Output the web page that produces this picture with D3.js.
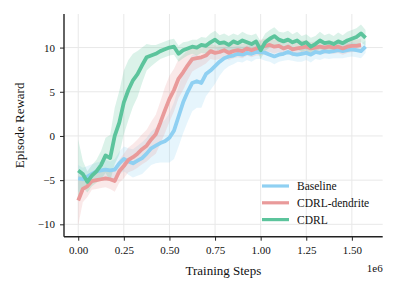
<!DOCTYPE html>
<meta charset="utf-8">
<head>
  <title>Episode Reward</title>
</head>
<style>
body { margin: 0; background: #fff; }
text { font-family: "Liberation Serif", "DejaVu Serif", serif; fill: #111; }
.grid line { stroke: #e8e8e8; stroke-width: 1; }
</style>
<body>
<script src="https://d3js.org/d3.v7.min.js"></script>
<script>

// training steps (in units of 1e6)
var steps = [0.000, 0.025, 0.050, 0.075, 0.100, 0.125, 0.150, 0.175, 0.200, 0.225,
             0.250, 0.275, 0.300, 0.325, 0.350, 0.375, 0.400, 0.425, 0.450, 0.475,
             0.500, 0.525, 0.550, 0.575, 0.600, 0.625, 0.650, 0.675, 0.700, 0.725,
             0.750, 0.775, 0.800, 0.825, 0.850, 0.875, 0.900, 0.925, 0.950, 0.975,
             1.000, 1.025, 1.050, 1.075, 1.100, 1.125, 1.150, 1.175, 1.200, 1.225,
             1.250, 1.275, 1.300, 1.325, 1.350, 1.375, 1.400, 1.425, 1.450, 1.475,
             1.500, 1.525, 1.550, 1.575];

var seriesNames = ["Baseline", "CDRL-dendrite", "CDRL"];
var seriesColors = ["#8fd0f2", "#e99a9a", "#5cc49c"];

// mean episode reward
var baselineMean = [-4.8, -4.9, -4.6, -4.3, -4.0, -3.9, -3.8, -3.9, -3.8, -3.1,
                    -2.6, -2.9, -3.1, -2.8, -2.5, -2.0, -1.4, -1.1, -0.8, -0.6,
                    -0.2, 0.6, 2.2, 3.8, 5.0, 6.0, 6.2, 6.0, 7.0, 7.4,
                    7.9, 8.4, 8.8, 9.0, 9.1, 9.3, 9.2, 9.4, 9.3, 9.5,
                    9.5, 9.4, 9.2, 9.0, 9.2, 9.3, 9.5, 9.3, 9.2, 9.3,
                    9.4, 9.2, 9.5, 9.4, 9.6, 9.5, 9.6, 9.7, 9.6, 9.7,
                    9.8, 9.7, 9.6, 10.1];
var dendriteMean = [-7.3, -6.0, -5.7, -5.1, -5.0, -4.9, -4.8, -4.9, -5.1, -4.0,
                    -3.4, -2.7, -2.4, -2.0, -1.5, -1.1, -0.4, 0.2, 1.5, 2.9,
                    4.2, 5.2, 6.5, 7.2, 8.0, 8.7, 8.8, 8.9, 9.1, 9.6,
                    9.4, 9.5, 9.7, 9.4, 9.6, 9.7, 9.6, 9.9, 9.7, 9.9,
                    10.0, 10.2, 10.3, 10.1, 10.2, 9.9, 10.1, 9.8, 9.9, 10.0,
                    10.1, 9.9, 10.0, 10.1, 10.0, 10.1, 10.0, 10.1, 9.9, 10.1,
                    10.2, 10.2, 10.3];
var cdrlMean = [-3.9, -4.3, -5.2, -4.5, -4.0, -3.3, -2.2, -2.5, 0.0, 1.5,
                3.8, 5.2, 6.3, 7.0, 8.0, 8.9, 9.1, 9.3, 9.6, 9.8,
                10.0, 10.1, 9.3, 9.7, 9.9, 10.1, 10.0, 10.3, 10.2, 10.6,
                10.9, 10.5, 10.6, 10.3, 10.7, 10.5, 10.8, 10.6, 10.4, 10.7,
                9.7, 10.6, 11.0, 11.3, 10.9, 10.7, 10.9, 10.6, 10.8, 10.4,
                10.6, 10.1, 10.4, 10.8, 10.5, 10.6, 10.4, 10.7, 10.5, 10.8,
                11.0, 11.2, 11.6, 11.1];

// spread (std) around the mean
var baselineStd = [1.5, 1.3, 1.2, 1.1, 1.0, 1.0, 1.1, 1.0, 1.2, 1.3,
                   1.4, 1.5, 1.6, 1.7, 1.8, 1.8, 1.9, 2.0, 2.2, 2.4,
                   2.8, 3.2, 3.4, 3.5, 3.4, 3.2, 3.0, 2.8, 2.5, 2.2,
                   2.0, 1.6, 1.3, 1.1, 1.0, 0.9, 0.9, 0.8, 0.9, 0.8,
                   0.8, 0.9, 0.8, 0.9, 0.8, 0.8, 0.9, 0.8, 0.8, 0.9,
                   0.8, 0.9, 0.8, 0.8, 0.8, 0.8, 0.8, 0.9, 0.8, 0.8,
                   0.8, 0.8, 0.8, 0.7];
var dendriteStd = [2.8, 1.5, 1.2, 1.0, 1.0, 1.0, 1.0, 1.1, 1.2, 1.3,
                   1.4, 1.4, 1.5, 1.6, 1.7, 1.8, 2.0, 2.2, 2.4, 2.6,
                   2.6, 2.4, 2.2, 2.0, 1.7, 1.4, 1.2, 1.0, 0.9, 0.9,
                   0.8, 0.8, 0.8, 0.8, 0.8, 0.8, 0.8, 0.8, 0.8, 0.8,
                   0.9, 0.8, 0.8, 0.8, 0.7, 0.8, 0.7, 0.8, 0.7, 0.8,
                   0.7, 0.7, 0.7, 0.7, 0.7, 0.7, 0.7, 0.7, 0.7, 0.7,
                   0.7, 0.7, 0.7];
var cdrlStd = [3.5, 1.5, 1.2, 1.2, 1.3, 1.6, 2.0, 2.6, 3.2, 3.6,
               3.6, 3.4, 3.0, 2.6, 2.0, 1.5, 1.2, 1.0, 0.9, 0.9,
               0.9, 0.9, 0.9, 0.9, 0.8, 0.8, 0.9, 0.9, 0.9, 1.0,
               1.0, 0.9, 1.0, 1.0, 0.9, 0.9, 1.0, 0.9, 1.0, 0.9,
               1.0, 1.0, 1.0, 1.0, 0.9, 1.0, 1.0, 0.9, 1.0, 0.9,
               0.9, 1.0, 0.9, 1.0, 0.9, 1.0, 0.9, 1.0, 0.9, 1.0,
               1.0, 1.0, 1.0, 0.9];

var xTicks = [0, 0.25, 0.5, 0.75, 1.0, 1.25, 1.5];
var yTicks = [-10, -5, 0, 5, 10];

var width = 397,
    height = 293;
var plotLeft = 64, plotRight = 382.7, plotTop = 14, plotBottom = 236.7;

var svg = d3.select("body").append("svg")
    .attr("width", width)
    .attr("height", height);

var x = d3.scaleLinear().domain([-0.078, 1.669]).range([plotLeft, plotRight]);
var y = d3.scaleLinear().domain([-11.4, 13.8]).range([plotBottom, plotTop]);

// grid
var grid = svg.append("g").attr("class", "grid");
grid.selectAll(".gx").data(xTicks).enter().append("line")
    .attr("x1", function(d) { return x(d); })
    .attr("x2", function(d) { return x(d); })
    .attr("y1", plotTop).attr("y2", plotBottom);
grid.selectAll(".gy").data(yTicks).enter().append("line")
    .attr("x1", plotLeft).attr("x2", plotRight)
    .attr("y1", function(d) { return y(d); })
    .attr("y2", function(d) { return y(d); });

// build series rows
var series = [baselineMean, dendriteMean, cdrlMean].map(function(m, k) {
  var s = [baselineStd, dendriteStd, cdrlStd][k];
  return {
    name: seriesNames[k],
    color: seriesColors[k],
    rows: m.map(function(v, i) { return {x: steps[i], m: v, sd: s[i]}; })
  };
});

var area = d3.area()
    .x(function(d) { return x(d.x); })
    .y0(function(d) { return y(d.m - d.sd); })
    .y1(function(d) { return y(d.m + d.sd); });
var line = d3.line()
    .x(function(d) { return x(d.x); })
    .y(function(d) { return y(d.m); });

var plot = svg.append("g");
series.forEach(function(s) {
  plot.append("path")
      .attr("d", area(s.rows))
      .attr("fill", s.color)
      .attr("fill-opacity", 0.22);
});
series.forEach(function(s) {
  plot.append("path")
      .attr("d", line(s.rows))
      .attr("fill", "none")
      .attr("stroke", s.color)
      .attr("stroke-width", 3.8)
      .attr("stroke-linejoin", "round");
});

// axes
var xAxis = svg.append("g")
    .attr("transform", "translate(0," + plotBottom + ")")
    .call(d3.axisBottom(x).tickValues(xTicks).tickFormat(d3.format(".2f")).tickSizeOuter(0).tickSize(4).tickPadding(6));
var yAxis = svg.append("g")
    .attr("transform", "translate(" + plotLeft + ",0)")
    .call(d3.axisLeft(y).tickValues(yTicks).tickSizeOuter(0).tickSize(4).tickPadding(5));

[xAxis, yAxis].forEach(function(a) {
  a.select(".domain").attr("stroke", "#222").attr("stroke-width", 1.4);
  a.selectAll(".tick line").attr("stroke", "#222").attr("stroke-width", 1);
  a.selectAll(".tick text").style("font-family", "Liberation Serif").style("font-size", "11px").attr("fill", "#111");
});
yAxis.select(".domain").attr("d", "M0," + plotTop + "V" + plotBottom);
xAxis.select(".domain").attr("d", "M" + plotLeft + ",0H" + plotRight);

svg.append("text")
    .attr("x", (plotLeft + plotRight) / 2)
    .attr("y", 275)
    .attr("text-anchor", "middle")
    .style("font-size", "13px")
    .text("Training Steps");
svg.append("text")
    .attr("transform", "translate(24," + ((plotTop + plotBottom) / 2) + ") rotate(-90)")
    .attr("text-anchor", "middle")
    .style("font-size", "13px")
    .text("Episode Reward");
svg.append("text")
    .attr("x", plotRight)
    .attr("y", 272)
    .attr("text-anchor", "end")
    .style("font-size", "11px")
    .text("1e6");

// legend
var legend = svg.append("g");
series.forEach(function(s, i) {
  var ly = 186 + i * 16.8;
  legend.append("line")
      .attr("x1", 262).attr("x2", 289)
      .attr("y1", ly).attr("y2", ly)
      .attr("stroke", s.color)
      .attr("stroke-width", 3.2);
  legend.append("text")
      .attr("x", 297).attr("y", ly + 4)
      .style("font-size", "11.5px")
      .text(s.name);
});

</script>
</body>
